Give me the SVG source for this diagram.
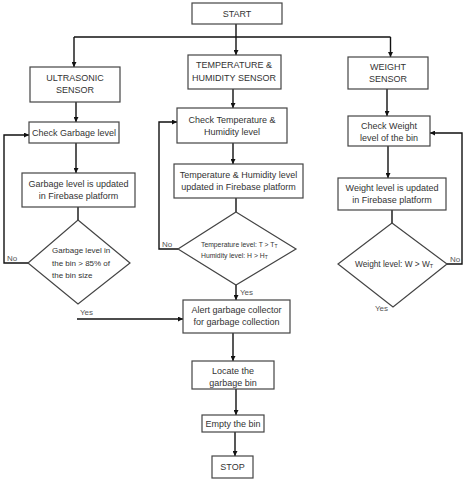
<svg xmlns="http://www.w3.org/2000/svg" width="465" height="480" viewBox="0 0 465 480">
<defs>
<marker id="ah" viewBox="0 0 10 10" refX="10" refY="5" markerWidth="5" markerHeight="5" orient="auto" markerUnits="userSpaceOnUse"><path d="M0,0 L10,5 L0,10 z" fill="#111"/></marker>
</defs>
<style>
.box{fill:#fff;stroke:#444;stroke-width:1.2}
.t{font-family:"Liberation Sans",Arial,sans-serif;font-size:9px;fill:#333;text-anchor:middle;dominant-baseline:central}
.d{font-family:"Liberation Sans",Arial,sans-serif;fill:#333;dominant-baseline:central}
.c{fill:none;stroke:#111;stroke-width:1.4}
.a{marker-end:url(#ah)}
.lbl{font-family:"Liberation Sans",Arial,sans-serif;font-size:8px;fill:#555;dominant-baseline:central}
</style>
<rect width="465" height="480" fill="#fff"/>
<g id="connectors">
<polyline class="c" points="236,24 236,37"/>
<path class="c a" d="M236,37 L236,55"/>
<path class="c a" d="M74,37 L74,67"/>
<path class="c a" d="M390.5,37 L390.5,57"/>
<polyline class="c" points="74,37 390.5,37"/>
<path class="c a" d="M76,102 L76,122"/>
<path class="c a" d="M76,143 L76,173"/>
<path class="c" d="M78,207 L78,220"/>
<path class="c a" d="M28,263 L4,263 L4,135 L29,135"/>
<path class="c a" d="M77,319 L183,319"/>
<path class="c a" d="M233,89 L233,108"/>
<path class="c a" d="M233,143 L233,164"/>
<path class="c" d="M236,198 L236,212"/>
<path class="c a" d="M178,249 L159,249 L159,122 L177,122"/>
<path class="c a" d="M236,285 L236,300"/>
<path class="c a" d="M387,89 L387,116"/>
<path class="c a" d="M388,146 L388,178"/>
<path class="c" d="M392,210 L392,223"/>
<path class="c a" d="M447,264 L462,264 L462,133 L430,133"/>
<path class="c a" d="M233,333 L233,361"/>
<path class="c a" d="M236,389 L236,415"/>
<path class="c a" d="M235,432 L235,456"/>
</g>
<g id="start"><rect class="box" x="192" y="3" width="90" height="21"/><text class="t" x="237" y="14">START</text></g>
<g id="ultrasonic"><rect class="box" x="30" y="67" width="90" height="35"/><text class="t" x="75" y="77.5">ULTRASONIC</text><text class="t" x="75" y="90">SENSOR</text></g>
<g id="temphum"><rect class="box" x="188" y="55" width="93" height="34"/><text class="t" x="234" y="65">TEMPERATURE &amp;</text><text class="t" x="234" y="77.5">HUMIDITY SENSOR</text></g>
<g id="weight"><rect class="box" x="348" y="57" width="80" height="32"/><text class="t" x="388" y="66.5">WEIGHT</text><text class="t" x="388" y="79">SENSOR</text></g>
<g id="checkGarbage"><rect class="box" x="29" y="122" width="90" height="21"/><text class="t" x="74" y="133">Check Garbage level</text></g>
<g id="garbageUpdated"><rect class="box" x="22" y="173" width="113" height="34"/><text class="t" x="78.5" y="183.5">Garbage level is updated</text><text class="t" x="78.5" y="195.5">in Firebase platform</text></g>
<g id="garbageDecision"><polygon class="box" points="78,220 130,263 78,304 28,263"/><text class="d" font-size="8" x="52" y="250">Garbage level in</text><text class="d" font-size="8" x="52" y="263">the bin &gt; 85% of</text><text class="d" font-size="8" x="52" y="275">the bin size</text></g>
<g id="checkTemp"><rect class="box" x="177" y="108" width="110" height="35"/><text class="t" x="232" y="119.5">Check Temperature &amp;</text><text class="t" x="232" y="132">Humidity level</text></g>
<g id="tempUpdated"><rect class="box" x="174" y="164" width="129" height="34"/><text class="t" x="238.5" y="174.5">Temperature &amp; Humidity level</text><text class="t" x="238.5" y="187">updated in Firebase platform</text></g>
<g id="tempDecision"><polygon class="box" points="236,212 296,249 236,285 178,249"/><text class="d" font-size="6.8" x="201" y="244">Temperature level: T &gt; T<tspan font-size="5" dy="1.5">T</tspan></text><text class="d" font-size="6.8" x="201" y="255">Humidity level: H &gt; H<tspan font-size="5" dy="1.5">T</tspan></text></g>
<g id="checkWeight"><rect class="box" x="348" y="116" width="82" height="30"/><text class="t" x="389" y="126">Check Weight</text><text class="t" x="389" y="137.5">level of the bin</text></g>
<g id="weightUpdated"><rect class="box" x="338" y="178" width="108" height="32"/><text class="t" x="392" y="188">Weight level is updated</text><text class="t" x="392" y="200">in Firebase platform</text></g>
<g id="weightDecision"><polygon class="box" points="392,223 447,264 393,307 338,264"/><text class="d" font-size="8.3" x="355" y="264">Weight level: W &gt; W<tspan font-size="5.5" dy="1.5">T</tspan></text></g>
<g id="alert"><rect class="box" x="183" y="300" width="107" height="33"/><text class="t" x="236.5" y="309.5">Alert garbage collector</text><text class="t" x="236.5" y="322">for garbage collection</text></g>
<g id="locate"><rect class="box" x="192" y="361" width="82" height="28"/><text class="t" x="233" y="371">Locate the</text><text class="t" x="233" y="383">garbage bin</text></g>
<g id="empty"><rect class="box" x="202" y="415" width="62" height="17"/><text class="t" x="233" y="423.5">Empty the bin</text></g>
<g id="stop"><rect class="box" x="212" y="456" width="41" height="22"/><text class="t" x="232.5" y="467">STOP</text></g>
<g id="labels">
<text class="lbl" x="7" y="258">No</text>
<text class="lbl" x="80" y="312">Yes</text>
<text class="lbl" x="162" y="244">No</text>
<text class="lbl" x="240" y="292">Yes</text>
<text class="lbl" x="450" y="259">No</text>
<text class="lbl" x="375" y="308">Yes</text>
</g>
</svg>
